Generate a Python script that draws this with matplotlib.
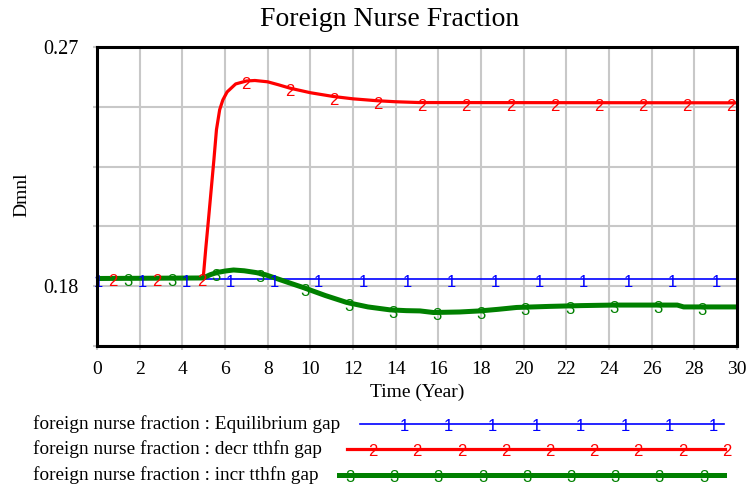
import numpy as np
import matplotlib.pyplot as plt
import matplotlib.transforms as mtrans
from matplotlib.lines import Line2D

# ---------------- data ----------------
time_eq = [0, 30]
eq_gap = [0.1826, 0.1826]

time_decr = [0, 4.98, 5.1, 5.23, 5.36, 5.48, 5.6, 5.75, 5.9, 6.1, 6.5, 7.0,
             7.4, 8.0, 8.5, 9.05, 10.0, 11.06, 12.0, 13.1, 14.0, 15.1, 30]
decr_gap = [0.1829, 0.1832, 0.1943, 0.2055, 0.2170, 0.2276, 0.2389, 0.2464,
            0.2501, 0.2531, 0.2561, 0.2572, 0.2574, 0.2569, 0.2558, 0.2545,
            0.2528, 0.2514, 0.2505, 0.2498, 0.2494, 0.2491, 0.2490]

time_incr = [0, 4.98, 5.3, 5.6, 6.0, 6.4, 6.9, 7.48, 7.9, 8.27, 9.0, 9.67,
             10.7, 11.7, 12.7, 13.73, 14.5, 15.14, 15.77, 17.0, 17.95, 18.8,
             19.67, 21.2, 22.7, 24.2, 27.2, 27.5, 30]
incr_gap = [0.1829, 0.1831, 0.1843, 0.1851, 0.1857, 0.1861, 0.1858, 0.1851,
            0.1843, 0.1833, 0.1813, 0.1795, 0.1765, 0.1739, 0.1722, 0.1711,
            0.1708, 0.1707, 0.1701, 0.1703, 0.1707, 0.1713, 0.1720, 0.1724,
            0.1727, 0.1729, 0.1729, 0.1722, 0.1722]

x_ticks = list(range(0, 31, 2))
y_min, y_max = 0.1575, 0.27
y_label_values = [0.18, 0.27]
y_label_texts = ['0.18', '0.27']

series_names = ['foreign nurse fraction : Equilibrium gap',
                'foreign nurse fraction : decr tthfn gap',
                'foreign nurse fraction : incr tthfn gap']
series_colors = ['#0000ff', '#ff0000', '#008000']
series_lw = [1.2, 2.3, 3.6]
series_tags = ['1', '2', '3']
tag_start = [0.05, 0.75, 1.45]
tag_step = 2.07

serif = ['Liberation Serif', 'DejaVu Serif']
sans = ['Liberation Sans', 'DejaVu Sans']

W, H = 749, 490
fig = plt.figure(figsize=(W / 100, H / 100), dpi=100)
ax = fig.add_axes([97 / W, 1 - 346 / H, 640 / W, 299 / H])

series = [(time_eq, eq_gap), (time_decr, decr_gap), (time_incr, incr_gap)]
for i, (t, v) in enumerate(series):
    ax.plot(t, v, color=series_colors[i], lw=series_lw[i], zorder=3 + i,
            solid_capstyle='butt', solid_joinstyle='round')
    tt = np.arange(tag_start[i], 30.01, tag_step)
    vv = np.interp(tt, t, v)
    for a, b in zip(tt, vv):
        ax.annotate(series_tags[i], (a, b), xytext=(0, -8),
                    textcoords='offset pixels', ha='center', va='baseline',
                    color=series_colors[i], fontsize=12, family=sans,
                    zorder=6, annotation_clip=False)

ax.set_xlim(0, 30)
ax.set_ylim(y_min, y_max)
ax.set_xticks(x_ticks)
ax.set_xticklabels([str(x) for x in x_ticks], family=serif, fontsize=14)

grid_y = np.linspace(y_min, y_max, 6)
ax.set_yticks(grid_y)
labels = []
for g in grid_y:
    lab = ''
    for val, txt in zip(y_label_values, y_label_texts):
        if abs(g - val) < 1e-3:
            lab = txt
    labels.append(lab)
ax.set_yticklabels(labels, family=serif, fontsize=14.5)
for lbl in ax.get_yticklabels():
    if lbl.get_text() == '0.27':
        lbl.set_transform(lbl.get_transform() +
                          mtrans.ScaledTranslation(0, -13 / 100, fig.dpi_scale_trans))

ax.grid(True, color='#c8c8c8', lw=1.5, zorder=0)
ax.tick_params(axis='both', length=3, width=1.5, color='#c8c8c8', pad=8)
ax.tick_params(axis='y', pad=10)
for s in ax.spines.values():
    s.set_linewidth(2.2)
    s.set_color('black')
    s.set_zorder(10)

ax.set_xlabel('Time (Year)', family=serif, fontsize=14, labelpad=4)
fig.text(22 / W, 1 - 195 / H, 'Dmnl', rotation=90, ha='center', va='center',
         family=serif, fontsize=14)
fig.text(390 / W, 1 - 19 / H, 'Foreign Nurse Fraction', ha='center',
         va='center', family=serif, fontsize=20)

# ---------------- legend ----------------
leg_rows_y = [424, 449, 475]
leg_line_x0 = [360, 347, 339]
leg_line_x1 = [724, 725, 724]
leg_tag_x0 = [404, 373, 350]
leg_tag_dx = 44.2
leg_tag_n = [8, 9, 9]
for i in range(3):
    yf = 1 - leg_rows_y[i] / H
    fig.text(33 / W, yf, series_names[i], ha='left', va='center',
             family=serif, fontsize=13.9)
    fig.add_artist(Line2D([leg_line_x0[i] / W, leg_line_x1[i] / W], [yf, yf],
                          color=series_colors[i], lw=series_lw[i],
                          transform=fig.transFigure))
    for k in range(leg_tag_n[i]):
        xp = leg_tag_x0[i] + k * leg_tag_dx
        fig.text(xp / W, 1 - (leg_rows_y[i] + 7) / H, series_tags[i],
                 ha='center', va='baseline', color=series_colors[i],
                 fontsize=12, family=sans)

fig.savefig('out.png', dpi=100)
